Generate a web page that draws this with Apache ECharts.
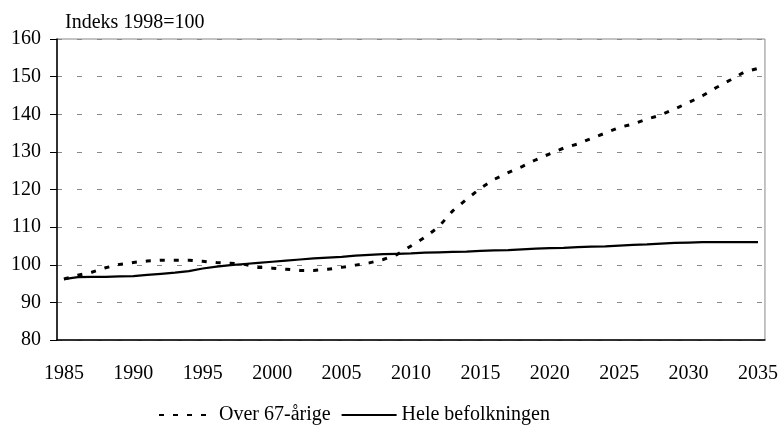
<!DOCTYPE html>
<html>
<head>
<meta charset="utf-8">
<script src="https://cdn.jsdelivr.net/npm/echarts@6/dist/echarts.min.js"></script>
<style>
  html, body { margin: 0; padding: 0; background: #fff; }
  #chart { width: 781px; height: 425px; }
</style>
</head>
<body>
<div id="chart"></div>
<script>
// data (index 1998=100)
var years = [];
for (var y = 1985; y <= 2035; y++) years.push(String(y));

var over67 = [
  96.2, 97.2, 98.0, 99.2, 100.1, 100.6, 101.0, 101.2, 101.2, 101.2,
  100.9, 100.6, 100.4, 100.1, 99.3, 99.1, 98.8, 98.5, 98.5, 98.8,
  99.3, 99.9, 100.5, 101.4, 102.7, 105.0, 107.3, 110.1, 114.3, 117.4,
  120.3, 122.7, 124.5, 126.1, 127.9, 129.5, 131.0, 132.1, 133.6, 135.0,
  136.5, 137.4, 138.7, 139.8, 141.4, 143.1, 144.9, 147.1, 149.1, 151.2,
  152.2
];

var heleBefolkningen = [
  96.2, 96.7, 96.8, 96.8, 96.9, 97.0, 97.3, 97.6, 97.9, 98.3,
  99.0, 99.5, 99.9, 100.2, 100.5, 100.8, 101.1, 101.4, 101.7, 101.9,
  102.1, 102.4, 102.6, 102.8, 102.9, 103.0, 103.2, 103.3, 103.4, 103.5,
  103.7, 103.8, 103.9, 104.1, 104.3, 104.4, 104.5, 104.7, 104.8, 104.9,
  105.1, 105.3, 105.4, 105.6, 105.8, 105.9, 106.0, 106.0, 106.0, 106.0,
  106.0
];

var font = '"Liberation Serif", "Times New Roman", serif';

var myChart = echarts.init(document.getElementById('chart'));
var option = {
  animation: false,
  textStyle: { fontFamily: font, color: '#000' },
  title: {
    text: 'Indeks 1998=100',
    left: 60,
    top: 8,
    textStyle: { fontFamily: font, fontSize: 20, fontWeight: 'normal', color: '#000' }
  },
  legend: {
    top: 405,
    left: 158,
    itemWidth: 55,
    itemHeight: 10,
    itemGap: 10,
    padding: 0,
    itemStyle: { opacity: 0 },
    textStyle: { fontFamily: font, fontSize: 20, color: '#000' },
    data: ['Over 67-årige', 'Hele befolkningen']
  },
  grid: {
    left: 57,
    right: 14,
    top: 39,
    bottom: 85,
    show: true,
    borderColor: '#888',
    borderWidth: 1
  },
  xAxis: {
    type: 'category',
    data: years,
    boundaryGap: true,
    axisLine: { lineStyle: { color: '#000', width: 1.5 } },
    axisTick: { interval: 0, length: 6, lineStyle: { color: '#000' } },
    axisLabel: { interval: 4, fontSize: 20, color: '#000', margin: 24, fontFamily: font },
    splitLine: { show: false }
  },
  yAxis: {
    type: 'value',
    min: 80,
    max: 160,
    interval: 10,
    axisLine: { show: true, lineStyle: { color: '#000', width: 1.5 } },
    axisTick: { show: true, length: 7, lineStyle: { color: '#000' } },
    axisLabel: { fontSize: 20, color: '#000', margin: 16, fontFamily: font },
    splitLine: { lineStyle: { color: '#888', type: [5, 15], width: 1 } }
  },
  series: [
    {
      name: 'Over 67-årige',
      type: 'line',
      data: over67,
      symbol: 'none',
      lineStyle: { color: '#000', width: 3, type: [5, 9] },
      itemStyle: { color: '#000' }
    },
    {
      name: 'Hele befolkningen',
      type: 'line',
      data: heleBefolkningen,
      symbol: 'none',
      lineStyle: { color: '#000', width: 2.2 },
      itemStyle: { color: '#000' }
    }
  ]
};
option && myChart.setOption(option);
</script>
</body>
</html>
